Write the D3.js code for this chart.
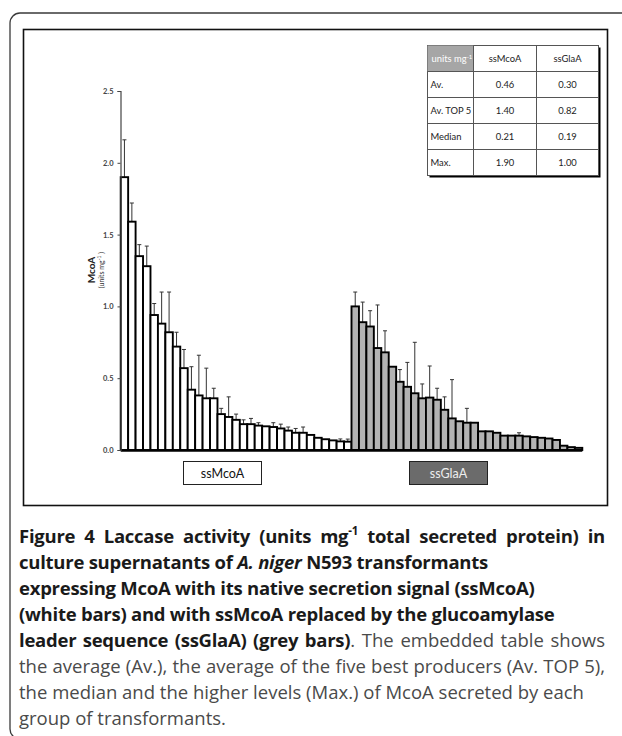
<!DOCTYPE html>
<html><head><meta charset="utf-8">
<script src="https://cdn.jsdelivr.net/npm/d3@7"></script>
<style>
html,body{margin:0;padding:0;background:#fff;}
svg{display:block;}
</style></head>
<body>
<svg id="c" width="622" height="736"></svg>
<script>
// ---- data ----
const mcoaValues = [1.90,1.59,1.35,1.28,0.94,0.88,0.82,0.72,0.57,0.42,0.38,0.36,0.36,0.25,0.23,0.21,0.18,0.18,0.17,0.165,0.16,0.15,0.135,0.12,0.12,0.105,0.085,0.075,0.067,0.06,0.058];
const mcoaErrors = [0.26,0.13,0.08,0.14,0.08,0.22,0.28,0.10,0.13,0.16,0.28,0.21,0.07,0.04,0.14,0.04,0.03,0.04,0.02,0,0.03,0.03,0.025,0.03,0.04,0,0,0,0,0.017,0.018];
const glaaValues = [1.00,0.89,0.86,0.71,0.68,0.58,0.475,0.44,0.395,0.36,0.365,0.35,0.28,0.22,0.20,0.19,0.19,0.13,0.13,0.12,0.10,0.10,0.10,0.095,0.09,0.085,0.08,0.07,0.03,0.02,0.015];
const glaaErrors = [0.10,0.14,0.11,0.30,0.15,0,0.085,0.17,0.355,0.10,0.22,0.08,0.09,0.27,0,0.10,0,0,0,0,0,0,0.02,0,0,0,0,0,0,0,0];
const yTicks = [0,0.5,1.0,1.5,2.0,2.5];
const groupLabels = ["ssMcoA","ssGlaA"];
const tableHeader = ["ssMcoA","ssGlaA"];
const tableRowLabels = ["Av.","Av. TOP 5","Median","Max."];
const tableMcoa = ["0.46","1.40","0.21","1.90"];
const tableGlaa = ["0.30","0.82","0.19","1.00"];

const svg = d3.select("#c");
const chartFont = "Lato, 'Open Sans', sans-serif";

// outer frame and inner box
svg.append("rect").attr("x",10).attr("y",13).attr("width",640).attr("height",726)
  .attr("rx",10).attr("fill","none").attr("stroke","#3a3a3a").attr("stroke-width",1.3);
svg.append("rect").attr("x",23.5).attr("y",29.5).attr("width",584).attr("height",476)
  .attr("fill","none").attr("stroke","#111").attr("stroke-width",1.6);

// scales
const bars = mcoaValues.map((v,i)=>({v, e:mcoaErrors[i], g:0}))
  .concat(glaaValues.map((v,i)=>({v, e:glaaErrors[i], g:1})));
const x = d3.scaleBand().domain(d3.range(bars.length)).range([120.7,582.3]).padding(0);
const y = d3.scaleLinear().domain([0,2.5]).range([450,91]);

// error bars
const eg = svg.append("g").attr("stroke","#333").attr("stroke-width",1);
bars.forEach((d,i)=>{
  if(!d.e) return;
  const cx = x(i)+x.bandwidth()/2;
  eg.append("line").attr("x1",cx).attr("x2",cx).attr("y1",y(d.v)).attr("y2",y(d.v+d.e));
  eg.append("line").attr("x1",cx-2).attr("x2",cx+2).attr("y1",y(d.v+d.e)).attr("y2",y(d.v+d.e));
});

// bars
svg.append("g").selectAll("rect").data(bars).join("rect")
  .attr("x",(d,i)=>x(i)).attr("width",x.bandwidth())
  .attr("y",d=>y(d.v)).attr("height",d=>y(0)-y(d.v))
  .attr("fill",d=>d.g? "#b3b3b3":"#fff")
  .attr("stroke","#000").attr("stroke-width",1.9);
svg.append("line").attr("x1",x(0)).attr("x2",x(bars.length-1)+x.bandwidth())
  .attr("y1",y(0)+0.5).attr("y2",y(0)+0.5).attr("stroke","#000").attr("stroke-width",2.5);

// y axis
const ax = svg.append("g").attr("transform","translate(120.5,0)")
  .call(d3.axisLeft(y).tickValues(yTicks).tickFormat(d3.format(".1f")).tickSize(3).tickPadding(4));
ax.select(".domain").attr("stroke","#444").attr("stroke-width",1.2);
ax.selectAll(".tick line").attr("stroke","#444");
ax.selectAll(".tick text").attr("font-family",chartFont).attr("font-size",7.5)
  .attr("font-weight","bold").attr("fill","#444");

// y labels
svg.append("text").attr("transform","translate(95,270) rotate(-90)").attr("text-anchor","middle")
  .attr("font-family",chartFont).attr("font-size",10).attr("font-weight","bold").attr("fill","#222").text("McoA");
const ul = svg.append("text").attr("transform","translate(104,270) rotate(-90)").attr("text-anchor","middle")
  .attr("font-family",chartFont).attr("font-size",7).attr("fill","#333");
ul.append("tspan").text("(units  mg");
ul.append("tspan").attr("font-size",5).attr("dy",-3).text("-1");
ul.append("tspan").attr("dy",3).text(" )");

// group label boxes
const gb = [{x:183.5,w:78,fill:"#fff",tc:"#111"},{x:409.5,w:78,fill:"#6b6b6b",tc:"#eee"}];
gb.forEach((b,i)=>{
  svg.append("rect").attr("x",b.x).attr("y",461.5).attr("width",b.w).attr("height",23)
    .attr("fill",b.fill).attr("stroke","#222").attr("stroke-width",1);
  svg.append("text").attr("x",b.x+b.w/2).attr("y",477.5).attr("text-anchor","middle")
    .attr("font-family",chartFont).attr("font-size",12.5).attr("fill",b.tc).text(groupLabels[i]);
});

// table
const tl = 427.5, tt = 45.5, colW = [46,63,62], rowH = 26;
const cols = [tl, tl+colW[0], tl+colW[0]+colW[1], tl+colW[0]+colW[1]+colW[2]];
const tg = svg.append("g").attr("font-family",chartFont).attr("font-size",9.4).attr("fill","#222");
tg.append("rect").attr("x",cols[0]+2).attr("y",tt+2).attr("width",cols[3]-cols[0]).attr("height",rowH*5)
  .attr("fill","#000");
tg.append("rect").attr("x",cols[0]).attr("y",tt).attr("width",cols[3]-cols[0]).attr("height",rowH*5)
  .attr("fill","#fff").attr("stroke","#555").attr("stroke-width",1);
tg.append("rect").attr("x",cols[0]).attr("y",tt).attr("width",colW[0]).attr("height",rowH).attr("fill","#a6a6a6");
for(let r=1;r<5;r++) tg.append("line").attr("x1",cols[0]).attr("x2",cols[3]).attr("y1",tt+r*rowH).attr("y2",tt+r*rowH).attr("stroke","#555");
for(let c=1;c<3;c++) tg.append("line").attr("x1",cols[c]).attr("x2",cols[c]).attr("y1",tt).attr("y2",tt+5*rowH).attr("stroke","#555");
const hdr = tg.append("text").attr("x",cols[0]+4).attr("y",tt+rowH/2+3.2).attr("fill","#fff");
hdr.append("tspan").text("units  mg");
hdr.append("tspan").attr("font-size",6).attr("dy",-3).text("-1");
tableHeader.forEach((h,i)=>tg.append("text").attr("x",(cols[i+1]+cols[i+2])/2).attr("y",tt+rowH/2+3.2).attr("text-anchor","middle").text(h));
tableRowLabels.forEach((lab,r)=>{
  const yy = tt+(r+1)*rowH+rowH/2+3.2;
  tg.append("text").attr("x",cols[0]+3).attr("y",yy).text(lab);
  tg.append("text").attr("x",(cols[1]+cols[2])/2).attr("y",yy).attr("text-anchor","middle").text(tableMcoa[r]);
  tg.append("text").attr("x",(cols[2]+cols[3])/2).attr("y",yy).attr("text-anchor","middle").text(tableGlaa[r]);
});

// caption
const capFont = "'Open Sans', sans-serif";
const B="#1a1a1a", N="#4a4a4a";
const capLines = [
  {w:586, parts:[{t:"Figure 4 Laccase activity (units mg",b:1},{t:"-1",b:1,sup:1},{t:" total secreted protein) in",b:1}]},
  {w:0, parts:[{t:"culture supernatants of ",b:1},{t:"A. niger",b:1,i:1},{t:" N593 transformants",b:1}]},
  {w:0, parts:[{t:"expressing McoA with its native secretion signal (ssMcoA)",b:1}]},
  {w:0, parts:[{t:"(white bars) and with ssMcoA replaced by the glucoamylase",b:1}]},
  {w:586, parts:[{t:"leader sequence (ssGlaA) (grey bars)",b:1},{t:". The embedded table shows",b:0}]},
  {w:586, parts:[{t:"the average (Av.), the average of the five best producers (Av. TOP 5),",b:0}]},
  {w:0, parts:[{t:"the median and the higher levels (Max.) of McoA secreted by each",b:0}]},
  {w:0, parts:[{t:"group of transformants.",b:0}]}
];
const capX = 19, capY0 = 543, capDY = 26, capSize = 18.5;
capLines.forEach((ln,k)=>{
  const t = svg.append("text").attr("x",capX).attr("y",capY0+k*capDY)
    .attr("font-family",capFont).attr("font-size",capSize);
  let prevSup=false;
  ln.parts.forEach(p=>{
    const s = t.append("tspan").text(p.t)
      .attr("font-weight",p.b?"bold":"normal").attr("fill",p.b?B:N);
    if(p.b) s.attr("letter-spacing",-0.25);
    if(p.i) s.attr("font-style","italic");
    if(p.sup){ s.attr("font-size",capSize*0.62).attr("dy",-8); prevSup=true; }
    else if(prevSup){ s.attr("dy",8); prevSup=false; }
  });
  const w = t.node().getComputedTextLength();
  const spaces = ln.parts.map(p=>p.t).join("").split(" ").length-1;
  if(ln.w && spaces>0 && w < ln.w){
    t.attr("word-spacing",(ln.w-w)/spaces);
  }
});
</script>
</body></html>
